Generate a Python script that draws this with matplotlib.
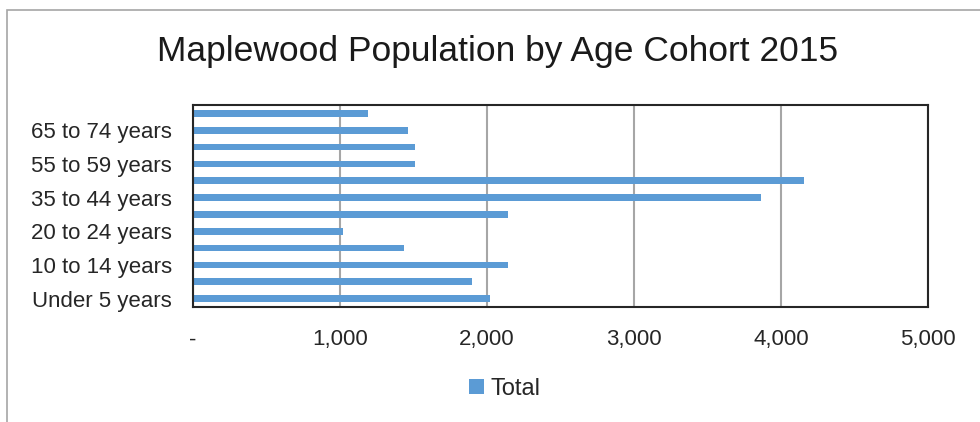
import matplotlib.pyplot as plt
from matplotlib.patches import Rectangle
from matplotlib.ticker import FuncFormatter

# age cohorts, bottom to top as drawn
cohorts = ['Under 5 years', '5 to 9 years', '10 to 14 years', '15 to 19 years',
           '20 to 24 years', '25 to 34 years', '35 to 44 years', '45 to 54 years',
           '55 to 59 years', '60 to 64 years', '65 to 74 years', '75 years and over']
total = [2020, 1898, 2141, 1435, 1023, 2141, 3864, 4156, 1510, 1510, 1460, 1193]

x_ticks = [0, 1000, 2000, 3000, 4000, 5000]

bar_color = '#5B9BD5'
text_color = '#262626'

plt.rcParams['font.family'] = ['Liberation Sans', 'DejaVu Sans']

fig = plt.figure(figsize=(9.8, 4.22), dpi=100)
ax = fig.add_axes([193/980, 1 - 307/422, 735/980, 202/422])

ypos = list(range(len(cohorts)))
ax.barh(ypos, total, height=0.4, color=bar_color, label='Total', zorder=3)

ax.set_xlim(0, 5000)
ax.set_ylim(-0.5, len(cohorts) - 0.5)
ax.set_xticks(x_ticks)
ax.xaxis.set_major_formatter(FuncFormatter(lambda v, p: '-' if v == 0 else f'{int(v):,}'))
ax.set_yticks(ypos[::2])
ax.set_yticklabels(cohorts[::2])
ax.tick_params(axis='both', length=0, labelsize=16, colors=text_color)
ax.tick_params(axis='x', pad=16)
ax.tick_params(axis='y', pad=15)
ax.grid(axis='x', color='#A6A6A6', linewidth=1.5, zorder=1)
for s in ax.spines.values():
    s.set_color(text_color)
    s.set_linewidth(1.5)
    s.set_zorder(4)

fig.text(0.508, 1 - 51/422, 'Maplewood Population by Age Cohort 2015',
         ha='center', va='center', fontsize=25.5, color='#1a1a1a')

leg = fig.legend(loc='center', bbox_to_anchor=(505/980, 1 - 389/422), frameon=False,
                 fontsize=17, handlelength=0.6, handleheight=0.6, handletextpad=0.3)
for t in leg.get_texts():
    t.set_color(text_color)

# chart area border (right and bottom run off the image)
fig.patches.append(Rectangle((7/980, -0.1), 1.1, 1 - 9.5/422 + 0.1, transform=fig.transFigure,
                             fill=False, edgecolor='#A6A6A6', linewidth=1.2))

fig.savefig('out.png', dpi=100)
